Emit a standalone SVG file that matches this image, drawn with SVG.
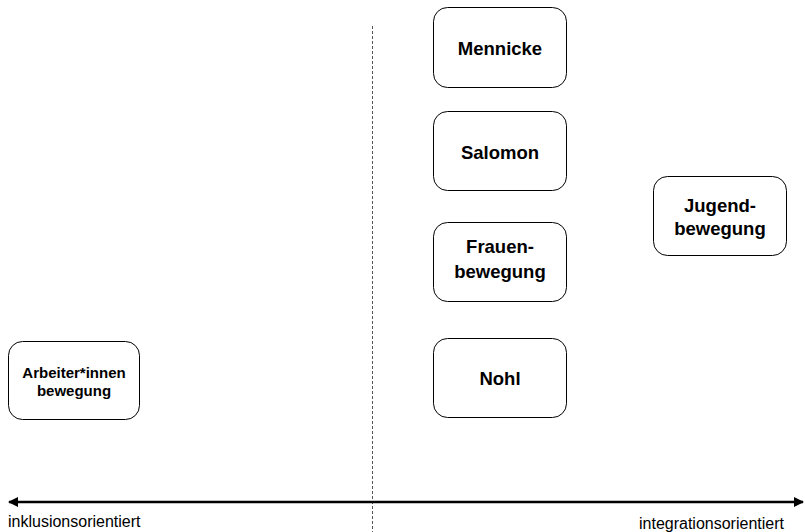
<svg xmlns="http://www.w3.org/2000/svg" width="805" height="532" viewBox="0 0 805 532">
  <style>
    .box { fill: #ffffff; stroke: #000000; stroke-width: 1; }
    .lbl { font-family: "Liberation Sans", Arial, sans-serif; font-weight: bold; font-size: 18.5px; fill: #000000; text-anchor: middle; }
    .lbl-sm { font-size: 15px; }
    .axis-lbl { font-family: "Liberation Sans", Arial, sans-serif; font-size: 16px; fill: #000000; }
  </style>
  <defs>
    <marker id="arrow" markerWidth="10" markerHeight="10" refX="9" refY="5" orient="auto-start-reverse" markerUnits="userSpaceOnUse">
      <path d="M0,0 L10,5 L0,10 Z" fill="#000000"/>
    </marker>
  </defs>
  <rect width="805" height="532" fill="#ffffff"/>

  <g id="connectors">
    <line x1="372.5" y1="26" x2="372.5" y2="532" stroke="#555555" stroke-width="1" stroke-dasharray="3,2"/>
    <line x1="9" y1="502" x2="803" y2="502" stroke="#000000" stroke-width="2.5" marker-start="url(#arrow)" marker-end="url(#arrow)"/>
  </g>

  <g id="node-arbeiter">
    <rect class="box" x="8.5" y="341.5" width="131" height="78" rx="14"/>
    <text class="lbl lbl-sm" x="74" y="378">Arbeiter*innen</text>
    <text class="lbl lbl-sm" x="74" y="396">bewegung</text>
  </g>
  <g id="node-mennicke">
    <rect class="box" x="433.5" y="7.5" width="133" height="80" rx="14"/>
    <text class="lbl" x="500" y="55">Mennicke</text>
  </g>
  <g id="node-salomon">
    <rect class="box" x="433.5" y="111.5" width="133" height="79" rx="14"/>
    <text class="lbl" x="500" y="159">Salomon</text>
  </g>
  <g id="node-frauen">
    <rect class="box" x="433.5" y="222.5" width="133" height="79" rx="14"/>
    <text class="lbl" x="500" y="253">Frauen-</text>
    <text class="lbl" x="500" y="278">bewegung</text>
  </g>
  <g id="node-nohl">
    <rect class="box" x="433.5" y="338.5" width="133" height="79" rx="14"/>
    <text class="lbl" x="500" y="385">Nohl</text>
  </g>
  <g id="node-jugend">
    <rect class="box" x="653.5" y="176.5" width="133" height="79" rx="14"/>
    <text class="lbl" x="720" y="212">Jugend-</text>
    <text class="lbl" x="720" y="235">bewegung</text>
  </g>

  <g id="axis-labels">
    <text class="axis-lbl" x="8" y="527">inklusionsorientiert</text>
    <text class="axis-lbl" x="639" y="529">integrationsorientiert</text>
  </g>
</svg>
